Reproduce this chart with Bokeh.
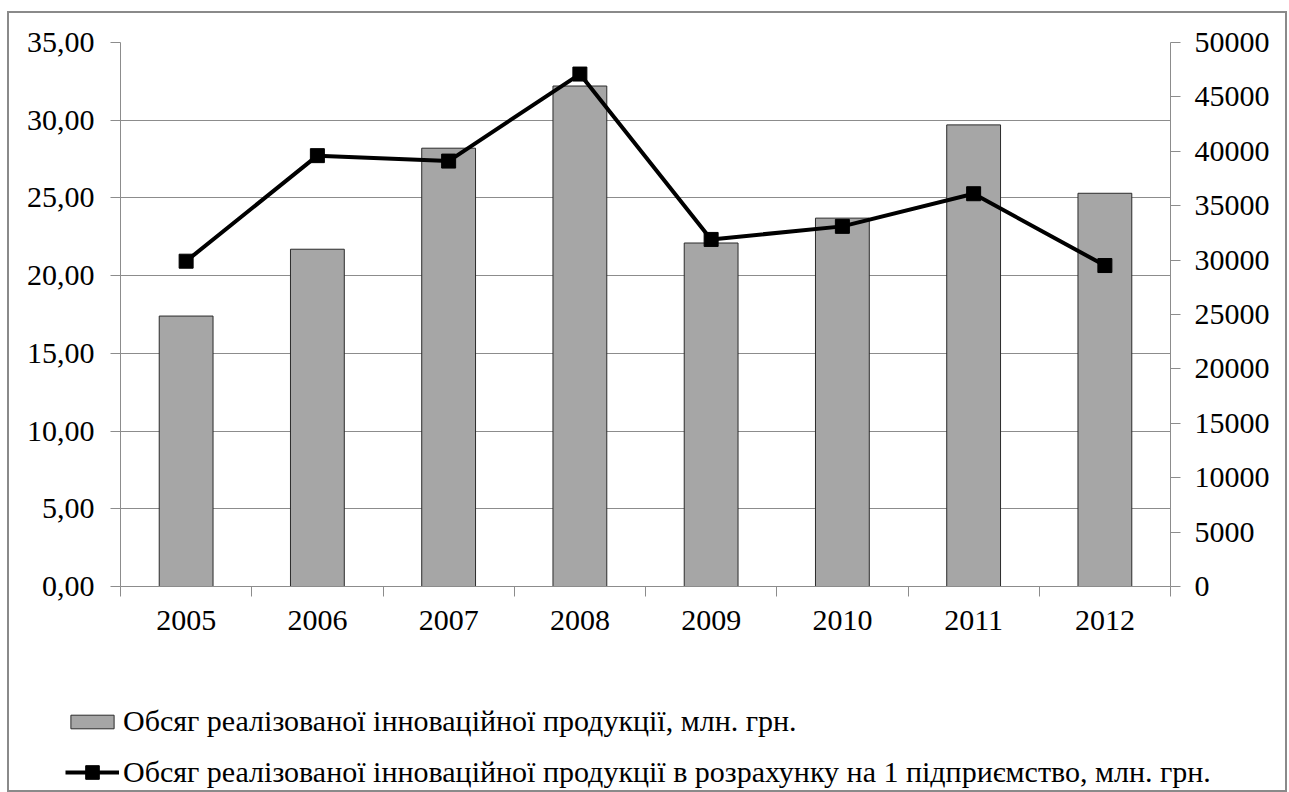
from bokeh.plotting import figure
from bokeh.layouts import column
from bokeh.models import (ColumnDataSource, Range1d, LinearAxis, FixedTicker,
                          Legend, LegendItem)
from bokeh.embed import file_html
from bokeh.resources import INLINE

years = ["2005", "2006", "2007", "2008", "2009", "2010", "2011", "2012"]
volume = [17.4, 21.7, 28.2, 32.2, 22.1, 23.7, 29.7, 25.3]
per_enterprise = [29900, 39600, 39100, 47100, 31900, 33100, 36100, 29500]
left_ticks = [0, 5, 10, 15, 20, 25, 30, 35]
right_ticks = [0, 5000, 10000, 15000, 20000, 25000, 30000, 35000, 40000, 45000, 50000]
label_bar = "Обсяг реалізованої інноваційної продукції, млн. грн."
label_line = "Обсяг реалізованої інноваційної продукції в розрахунку на 1 підприємство, млн. грн."

FONT = "'Liberation Serif', 'Times New Roman', serif"
GRID = "#8c8c8c"
BAR_FILL = "#a6a6a6"
BAR_LINE = "#2b2b2b"

x_pos = [i + 0.5 for i in range(len(years))]
src = ColumnDataSource(dict(x=x_pos, vol=volume, per=per_enterprise))

p = figure(width=1276, height=637, output_backend="svg", toolbar_location=None,
           x_range=Range1d(0, len(years)), y_range=Range1d(0, 35),
           min_border_left=111, min_border_right=115, min_border_top=29,
           min_border_bottom=64)
p.outline_line_color = None
p.background_fill_color = "white"
p.border_fill_color = "white"

p.extra_y_ranges = {"r": Range1d(0, 50000)}

p.vbar(x="x", top="vol", width=0.41, source=src, fill_color=BAR_FILL,
       line_color=BAR_LINE, line_width=1)
p.line(x="x", y="per", source=src, y_range_name="r", line_color="black", line_width=4)
p.scatter(x="x", y="per", source=src, y_range_name="r", marker="square", size=14,
          fill_color="black", line_color="black")

# x axis
xa = p.xaxis[0]
xa.ticker = FixedTicker(ticks=x_pos, minor_ticks=list(range(len(years) + 1)))
xa.major_label_overrides = {x: y for x, y in zip(x_pos, years)}
xa.major_tick_out = 0
xa.major_tick_in = 0
xa.minor_tick_out = 10
xa.minor_tick_in = 0
xa.minor_tick_line_color = GRID
xa.axis_line_color = GRID
xa.major_label_text_font = FONT
xa.major_label_text_font_size = "30px"
xa.major_label_text_color = "black"
xa.major_label_standoff = 14
p.xgrid.grid_line_color = None

# left axis
ya = p.yaxis[0]
ya.ticker = FixedTicker(ticks=left_ticks)
ya.major_label_overrides = {t: f"{t:.2f}".replace(".", ",") for t in left_ticks}
ya.major_tick_out = 10
ya.major_tick_in = 0
ya.minor_tick_line_color = None
ya.major_tick_line_color = GRID
ya.axis_line_color = GRID
ya.major_label_text_font = FONT
ya.major_label_text_font_size = "30px"
ya.major_label_text_color = "black"
ya.major_label_standoff = 16
p.ygrid.ticker = FixedTicker(ticks=left_ticks)
p.ygrid.grid_line_color = GRID
p.ygrid.grid_line_width = 1

# right axis
ra = LinearAxis(y_range_name="r", ticker=FixedTicker(ticks=right_ticks))
ra.major_tick_out = 10
ra.major_tick_in = 0
ra.minor_tick_line_color = None
ra.major_tick_line_color = GRID
ra.axis_line_color = GRID
ra.major_label_text_font = FONT
ra.major_label_text_font_size = "30px"
ra.major_label_text_color = "black"
ra.major_label_standoff = 14
p.add_layout(ra, "right")

# legend strip: a small figure below the chart whose glyphs reuse the chart's data
# (its ranges lie outside the data, so only the legend swatches show)
lg = figure(width=1276, height=140, output_backend="svg", toolbar_location=None,
            x_range=Range1d(100, 101), y_range=Range1d(100, 101),
            x_axis_type=None, y_axis_type=None,
            min_border_left=0, min_border_right=0, min_border_top=0, min_border_bottom=0)
lg.frame_align = False
lg.outline_line_color = None
lg.grid.grid_line_color = None
lg.border_fill_color = "white"
lb = lg.vbar(x="x", top="vol", width=0.41, source=src, fill_color=BAR_FILL,
             line_color=BAR_LINE, line_width=1)
ll = lg.line(x="x", y="per", source=src, line_color="black", line_width=4)
lm = lg.scatter(x="x", y="per", source=src, marker="square", size=14,
                fill_color="black", line_color="black")

common = dict(orientation="vertical", glyph_width=54, label_standoff=4,
              padding=0, margin=0, border_line_alpha=0, background_fill_alpha=0,
              label_text_font=FONT, label_text_font_size="30px",
              label_text_color="black")
legend1 = Legend(items=[LegendItem(label=label_bar, renderers=[lb])],
                 location=(56, 52), glyph_height=17, **common)
legend2 = Legend(items=[LegendItem(label=label_line, renderers=[ll, lm])],
                 location=(56, 1), glyph_height=34, **common)
lg.add_layout(legend1, "center")
lg.add_layout(legend2, "center")

layout = column(p, lg, spacing=0)
layout.styles = {"border": "2px solid #8a8a8a", "margin-left": "7px",
                 "margin-top": "11px", "background-color": "white"}

open("out.html", "w").write(file_html(layout, INLINE))
